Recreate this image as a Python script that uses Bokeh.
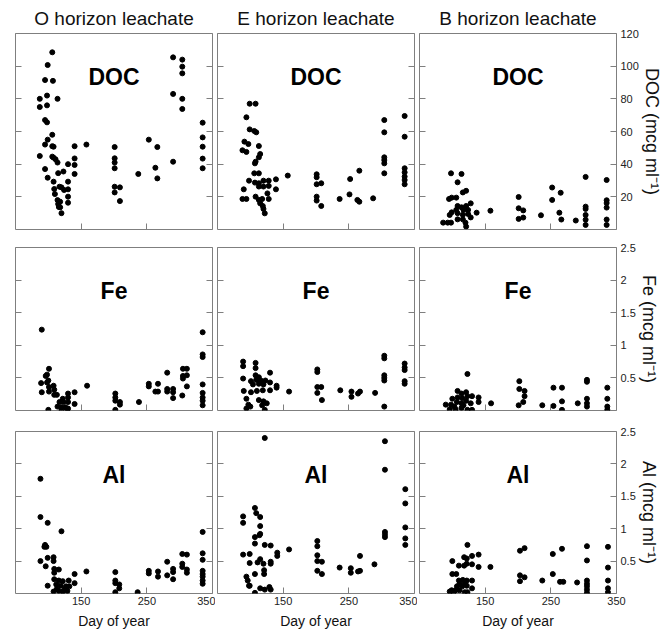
from bokeh.plotting import figure
from bokeh.layouts import column, row
from bokeh.models import Range1d, FixedTicker, LinearAxis, NumeralTickFormatter, Label
from bokeh.embed import file_html
from bokeh.resources import INLINE

FONT = "Liberation Sans"
GRAY = "#7f7f7f"

horizon_titles = ["O horizon leachate", "E horizon leachate", "B horizon leachate"]
element_names = ["DOC", "Fe", "Al"]
axis_titles = ["DOC (mcg ml\u207b\u00b9)", "Fe (mcg ml\u207b\u00b9)", "Al (mcg ml\u207b\u00b9)"]
x_label = "Day of year"
x_ticks = [150, 250, 350]
doc_ticks = [20, 40, 60, 80, 100, 120]
metal_ticks = [0.5, 1, 1.5, 2, 2.5]

# (day of year, concentration)
o_doc = [(87, 80), (87, 75), (87, 45), (95, 91.5), (95, 67), (95, 52), (95, 37), (98, 82), (98, 76), (98, 65.6),
         (99, 100.7), (99, 55), (99, 31.7), (106, 108.5), (106, 58), (106, 51), (106, 44.6), (107, 91), (108, 50.7),
         (108, 44), (108, 29.3), (109, 24.8), (110, 21.7), (111, 43), (114, 41), (114, 80), (114, 18), (115, 34.5),
         (115, 15.6), (116, 13.8), (117, 26.2), (118, 17), (118, 13.6), (120, 25.8), (120, 10), (123, 35.5), (124, 24.2),
         (130, 40), (130, 29.3), (130, 24.6), (130, 20.1), (130, 16.4), (140, 51), (140, 43.5), (140, 39.5), (140, 34),
         (158, 52), (201, 50.5), (201, 43.6), (201, 41), (201, 37.5), (201, 26.2), (201, 22.7), (209, 25.8), (209, 17.4),
         (237, 34), (253, 55), (263, 37.8), (266, 50.5), (266, 31.3), (290, 105.4), (290, 83), (290, 41.5),
         (304, 104), (304, 99.7), (304, 95.6), (304, 80), (304, 73.8),
         (335, 65.4), (335, 56.4), (335, 50.7), (335, 43.4), (335, 37.5)]
e_doc = [(99, 77), (108, 77), (94, 68.7), (99, 61.3), (106, 60.3), (109, 59.5), (91, 53.8), (97, 52.3), (113, 51.1),
         (88, 48.5), (94, 47.5), (115, 46.2), (113, 44.2), (108, 41.5), (107, 40.5), (106, 34.4), (113, 34.4),
         (98, 29.9), (107, 28.7), (113, 28.3), (120, 29.9), (128, 29.9), (139, 30.7), (90, 24.6), (113, 26.3),
         (120, 26.3), (128, 26.7), (139, 24.6), (126, 22.1), (88, 18.7), (94, 18.7), (108, 20.1), (113, 18.1),
         (118, 18.7), (128, 18.7), (115, 16), (119, 14.4), (120, 12.6), (122, 9.9), (157, 33), (201, 33.8), (201, 32),
         (201, 27.7), (208, 28.3), (201, 20.1), (201, 17.7), (208, 14.4), (236, 18.7), (252, 30.9), (266, 36),
         (251, 21.5), (263, 18.1), (266, 17), (287, 19.1), (304, 67), (304, 59.5), (304, 44.2), (304, 42.5),
         (304, 40.5), (304, 34.4), (335, 69.5), (335, 56.8), (335, 37.5), (335, 35), (335, 32.4), (335, 30.3), (335, 27.7)]
b_doc = [(98, 34.4), (114, 34), (108, 28.9), (116, 22.7), (121, 23.7), (95, 18.7), (99, 19.5), (106, 19.5), (108, 14.4),
         (114, 13.6), (121, 14.4), (128, 16), (106, 12), (117, 12), (124, 12), (99, 10.5), (108, 10), (116, 9),
         (124, 9.5), (137, 10.3), (96, 8.9), (128, 7.4), (116, 6.2), (108, 6.2), (120, 4.2), (121, 1.8), (86, 4.2),
         (93, 4.2), (98, 4.2), (158, 11.5), (201, 19.9), (201, 13), (208, 11.7), (201, 6.5), (208, 7.3), (235, 8.7),
         (252, 25.7), (252, 18.1), (265, 22.5), (263, 10.3), (266, 6.1), (288, 5.5), (303, 32.2), (303, 14),
         (303, 12.6), (303, 8.9), (303, 6), (303, 2.8), (335, 30.3), (335, 17.9), (335, 16.2), (335, 13.4),
         (335, 6.1), (335, 2.8)]
o_fe = [(90, 1.24), (335, 1.2), (335, 0.86), (335, 0.82), (101, 0.64), (98, 0.55), (96, 0.53), (89, 0.42), (98, 0.43),
        (100, 0.46), (281, 0.58), (305, 0.64), (311, 0.64), (305, 0.53), (311, 0.54), (305, 0.49), (253, 0.41),
        (253, 0.37), (267, 0.41), (159, 0.38), (311, 0.37), (101, 0.36), (108, 0.38), (109, 0.32), (90, 0.28),
        (101, 0.29), (109, 0.24), (113, 0.24), (130, 0.26), (140, 0.28), (122, 0.18), (130, 0.20), (117, 0.13),
        (123, 0.13), (130, 0.13), (140, 0.10), (114, 0.06), (120, 0.05), (126, 0.05), (130, 0.03), (100, 0.01),
        (120, 0.01), (129, 0.01), (202, 0.26), (202, 0.20), (202, 0.15), (209, 0.13), (209, 0.09), (202, 0.01),
        (238, 0.13), (263, 0.29), (267, 0.29), (281, 0.33), (281, 0.29), (290, 0.33), (290, 0.28), (290, 0.19),
        (304, 0.23), (335, 0.40), (335, 0.27), (335, 0.20), (335, 0.15), (335, 0.08)]
e_fe = [(89, 0.75), (89, 0.68), (108, 0.73), (108, 0.65), (130, 0.58), (89, 0.49), (108, 0.54), (113, 0.51), (101, 0.45),
        (109, 0.47), (116, 0.46), (123, 0.46), (130, 0.43), (104, 0.40), (113, 0.41), (120, 0.40), (140, 0.38),
        (140, 0.35), (90, 0.30), (101, 0.28), (110, 0.30), (119, 0.31), (130, 0.31), (94, 0.18), (97, 0.09),
        (94, 0.03), (113, 0.16), (120, 0.14), (125, 0.11), (118, 0.08), (122, 0.01), (100, 0.06), (159, 0.29),
        (202, 0.63), (202, 0.59), (202, 0.36), (208, 0.36), (202, 0.27), (209, 0.16), (237, 0.31), (254, 0.29),
        (254, 0.21), (264, 0.26), (267, 0.29), (290, 0.27), (304, 0.84), (304, 0.80), (304, 0.54), (304, 0.50),
        (304, 0.46), (304, 0.06), (335, 0.72), (335, 0.66), (335, 0.62), (335, 0.45), (335, 0.41)]
b_fe = [(123, 0.56), (202, 0.45), (210, 0.30), (202, 0.33), (210, 0.22), (208, 0.13), (201, 0.08), (254, 0.35),
        (267, 0.35), (237, 0.08), (254, 0.07), (267, 0.14), (267, 0.01), (291, 0.11), (305, 0.47), (305, 0.44),
        (305, 0.18), (305, 0.11), (305, 0.06), (336, 0.35), (336, 0.18), (336, 0.06), (336, 0.01), (90, 0.09),
        (98, 0.09), (100, 0.18), (108, 0.20), (115, 0.19), (108, 0.30), (114, 0.26), (121, 0.28), (123, 0.22),
        (130, 0.22), (140, 0.20), (140, 0.13), (107, 0.13), (114, 0.11), (121, 0.15), (128, 0.11), (96, 0.02),
        (105, 0.02), (114, 0.04), (123, 0.01), (130, 0.01), (103, 0.06), (117, 0.08), (159, 0.11)]
o_al = [(88, 1.77), (88, 1.18), (99, 1.09), (120, 0.96), (335, 0.95), (95, 0.75), (97, 0.72), (94, 0.72), (88, 0.50),
        (99, 0.55), (108, 0.56), (108, 0.50), (96, 0.42), (109, 0.38), (109, 0.32), (116, 0.37), (140, 0.30),
        (158, 0.34), (140, 0.16), (202, 0.33), (202, 0.20), (202, 0.16), (208, 0.14), (208, 0.08), (202, 0.02),
        (236, 0.02), (253, 0.35), (253, 0.31), (267, 0.34), (267, 0.26), (281, 0.49), (281, 0.28), (290, 0.38),
        (290, 0.33), (290, 0.22), (304, 0.61), (311, 0.60), (304, 0.46), (304, 0.41), (311, 0.37), (311, 0.32),
        (335, 0.62), (335, 0.52), (335, 0.35), (335, 0.30), (335, 0.26), (335, 0.20), (335, 0.15), (99, 0.12),
        (109, 0.22), (116, 0.20), (122, 0.19), (131, 0.20), (112, 0.14), (119, 0.12), (127, 0.11), (132, 0.11),
        (108, 0.03), (116, 0.04), (122, 0.03), (129, 0.04), (113, 0.07), (125, 0.07)]
e_al = [(122, 2.40), (305, 2.35), (305, 1.91), (336, 1.61), (336, 1.39), (336, 1.02), (336, 0.85), (336, 0.75),
        (305, 0.95), (305, 0.91), (305, 0.87), (107, 1.32), (109, 1.24), (115, 1.18), (89, 1.19), (89, 1.09),
        (115, 1.04), (115, 0.92), (114, 0.90), (107, 0.87), (107, 0.77), (122, 0.75), (131, 0.74), (89, 0.60),
        (99, 0.61), (141, 0.63), (141, 0.58), (159, 0.68), (202, 0.81), (202, 0.73), (202, 0.59), (202, 0.50),
        (202, 0.35), (209, 0.49), (209, 0.30), (236, 0.40), (253, 0.39), (253, 0.32), (264, 0.34), (267, 0.35),
        (267, 0.58), (289, 0.45), (99, 0.47), (115, 0.53), (111, 0.48), (120, 0.46), (131, 0.49), (131, 0.46),
        (94, 0.26), (96, 0.20), (98, 0.12), (107, 0.30), (121, 0.36), (121, 0.30), (115, 0.08), (122, 0.06),
        (129, 0.10), (131, 0.06), (107, 0.01), (99, 0.12)]
b_al = [(123, 0.75), (140, 0.60), (118, 0.56), (122, 0.54), (122, 0.46), (130, 0.58), (130, 0.45), (140, 0.41),
        (158, 0.41), (100, 0.50), (110, 0.43), (118, 0.43), (100, 0.30), (106, 0.30), (110, 0.20), (116, 0.21),
        (122, 0.20), (130, 0.20), (111, 0.15), (119, 0.15), (107, 0.11), (115, 0.11), (122, 0.12), (130, 0.08),
        (99, 0.05), (105, 0.05), (111, 0.05), (119, 0.02), (123, 0.02), (96, 0.03), (102, 0.02), (203, 0.66),
        (210, 0.70), (203, 0.28), (210, 0.25), (203, 0.19), (237, 0.20), (253, 0.61), (267, 0.69), (253, 0.30),
        (264, 0.18), (269, 0.18), (290, 0.17), (305, 0.73), (305, 0.51), (305, 0.20), (305, 0.15), (305, 0.11),
        (305, 0.06), (305, 0.01), (337, 0.72), (337, 0.40), (337, 0.20), (337, 0.08), (337, 0.02)]

panels = [[o_doc, e_doc, b_doc], [o_fe, e_fe, b_fe], [o_al, e_al, b_al]]

frame_w = 197
frame_h = [196, 163, 162]
border_top = [33, 9, 11]
border_bottom = [9, 10, 35]
border_left = [15, 2, 2]
border_right = [3, 3, 48]


def inner_axis(ticks, labelled, **kw):
    ax = LinearAxis(ticker=FixedTicker(ticks=ticks), axis_line_color=None,
                    major_tick_in=6, major_tick_out=0, major_tick_line_color=GRAY,
                    minor_tick_line_color=None, **kw)
    if labelled:
        ax.major_label_text_font = FONT
        ax.major_label_text_font_size = "11px"
        ax.major_label_text_color = "#222222"
    else:
        # tick marks only: labels are not drawn
        ax.major_label_text_font_size = "1px"
        ax.major_label_text_color = None
        ax.major_label_standoff = 0
    return ax


rows = []
for r in range(3):
    figs = []
    ymax = doc_ticks[-1] if r == 0 else metal_ticks[-1]
    yt = doc_ticks if r == 0 else metal_ticks
    for c in range(3):
        kw = {}
        if r == 0:
            kw["title"] = horizon_titles[c]
        p = figure(frame_width=frame_w, frame_height=frame_h[r],
                   min_border_left=border_left[c], min_border_right=border_right[c],
                   min_border_top=border_top[r], min_border_bottom=border_bottom[r],
                   x_range=Range1d(50, 350), y_range=Range1d(0, ymax),
                   x_axis_location=None, y_axis_location=None,
                   toolbar_location=None, output_backend="svg", **kw)
        if r == 0:
            p.title.align = "center"
            p.title.text_font = FONT
            p.title.text_font_size = "19px"
            p.title.text_font_style = "normal"
            p.title.text_color = "#111111"
            p.title.standoff = 10
        p.outline_line_color = GRAY
        p.outline_line_width = 1
        p.background_fill_color = "white"
        p.border_fill_color = "white"

        p.add_layout(inner_axis(yt, False), "left")
        right_lab = (c == 2)
        rax = inner_axis(yt, right_lab)
        if right_lab:
            rax.formatter = NumeralTickFormatter(format="0.[0]")
            rax.major_label_standoff = 4
            rax.axis_label = axis_titles[r]
            rax.axis_label_text_font = FONT
            rax.axis_label_text_font_size = "18px"
            rax.axis_label_text_font_style = "normal"
            rax.axis_label_text_color = "#111111"
            rax.axis_label_standoff = 0
        p.add_layout(rax, "right")

        bot_lab = (r == 2)
        bax = inner_axis(x_ticks, bot_lab)
        if bot_lab:
            bax.major_label_standoff = 3
            bax.axis_label = x_label
            bax.axis_label_text_font = FONT
            bax.axis_label_text_font_size = "14px"
            bax.axis_label_text_font_style = "normal"
            bax.axis_label_text_color = "#111111"
            bax.axis_label_standoff = 5
        p.add_layout(bax, "below")

        for grid in p.xgrid + p.ygrid:
            grid.visible = False

        data = panels[r][c]
        days = [d for d, v in data]
        vals = [v for d, v in data]
        p.scatter(days, vals, size=5, color="black")

        p.add_layout(Label(x=(50 + 350) / 2, y=ymax * (1 - 43 / frame_h[r]), text=element_names[r],
                           text_align="center", text_baseline="middle", text_font=FONT,
                           text_font_size="23px", text_font_style="bold", text_color="black"))
        figs.append(p)
    rows.append(row(*figs))

layout = column(*rows)
open("out.html", "w").write(file_html(layout, INLINE))
